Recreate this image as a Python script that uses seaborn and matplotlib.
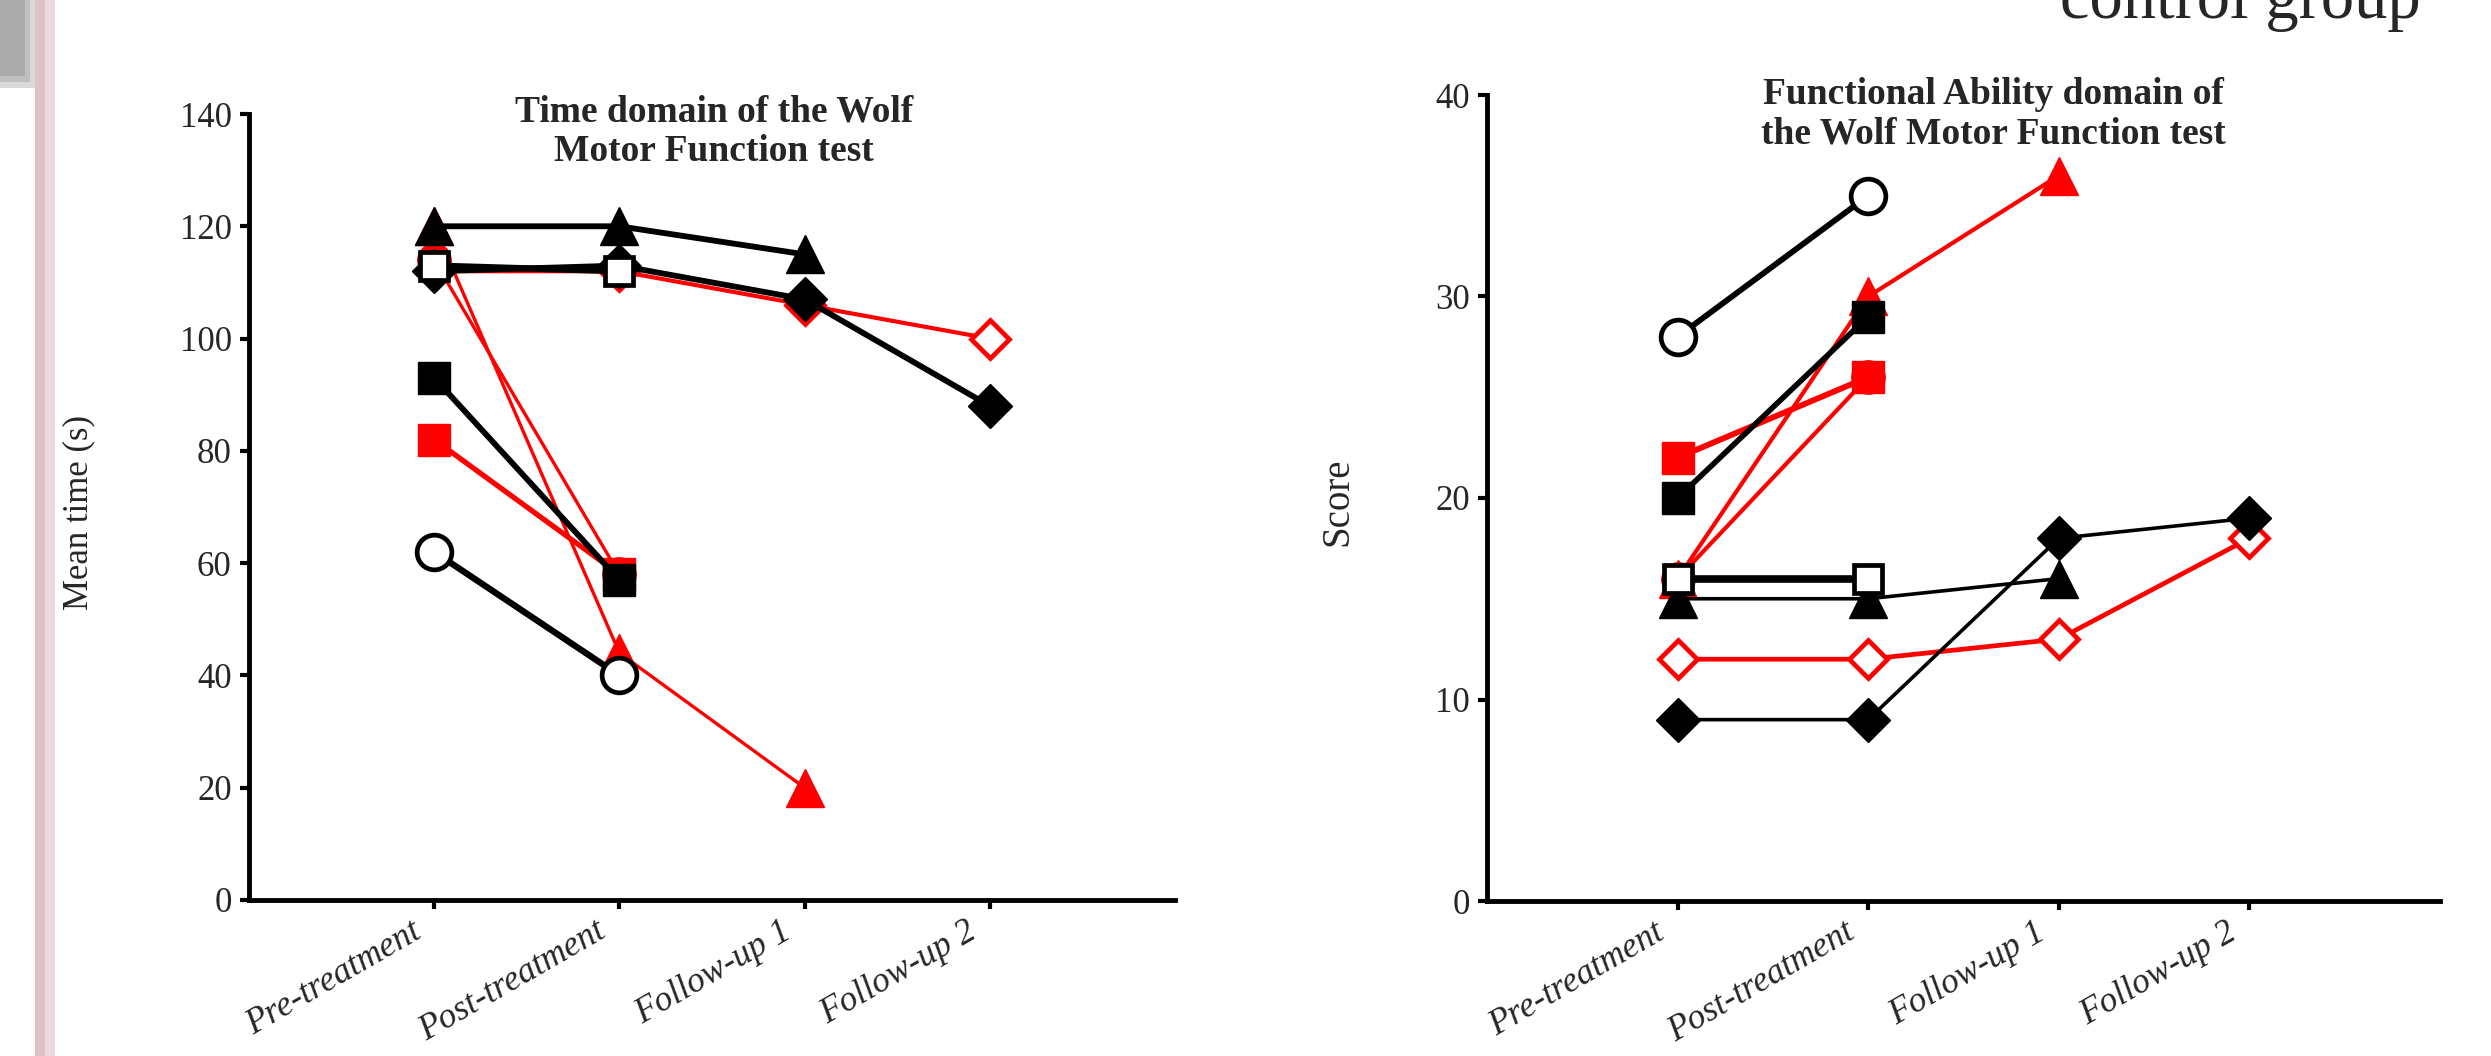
import numpy as np
import matplotlib
matplotlib.use("Agg")
import matplotlib.pyplot as plt
from matplotlib.patches import Rectangle
from matplotlib.transforms import ScaledTranslation
import seaborn as sns

nan = np.nan

# Assessment points shared by both panels
PHASES = ["Pre-treatment", "Post-treatment", "Follow-up 1", "Follow-up 2"]

# Time domain of the WMFT: mean time (s) per participant
time_red_triangle = [120, 44, 20, nan]
time_red_circle = [114, 58, nan, nan]
time_red_square = [82, 58, nan, nan]
time_red_diamond_open = [112, 112, 106, 100]
time_black_circle_open = [62, 40, nan, nan]
time_black_square = [93, 57, nan, nan]
time_black_diamond = [112, 113, 107, 88]
time_black_triangle = [120, 120, 115, nan]
time_black_square_open = [113, 112, nan, nan]

# Functional Ability domain of the WMFT: score per participant
fa_red_diamond_open = [12, 12, 13, 18]
fa_red_circle = [16, 26, nan, nan]
fa_red_triangle = [16, 30, 36, nan]
fa_red_square = [22, 26, nan, nan]
fa_black_triangle = [15, 15, 16, nan]
fa_black_diamond = [9, 9, 18, 19]
fa_black_square = [20, 29, nan, nan]
fa_black_square_open = [16, 16, nan, nan]
fa_black_circle_open = [28, 35, nan, nan]

TIME_TICKS = [0, 20, 40, 60, 80, 100, 120, 140]
FA_TICKS = [0, 10, 20, 30, 40]

RED = "#ff0000"
BLACK = "#000000"

# marker style: (marker, size, open?)
STYLE = {
    "triangle": ("^", 28, False),
    "circle": ("o", 24, False),
    "square": ("s", 23, False),
    "diamond": ("D", 22, False),
    "diamond_open": ("D", 19, True),
    "square_open": ("s", 20.5, True),
    "circle_open": ("o", 25, True),
}

time_series = [
    (time_red_triangle, RED, "triangle", 2.4),
    (time_red_circle, RED, "circle", 2.4),
    (time_red_square, RED, "square", 3.8),
    (time_red_diamond_open, RED, "diamond_open", 3.0),
    (time_black_circle_open, BLACK, "circle_open", 4.6),
    (time_black_square, BLACK, "square", 4.2),
    (time_black_diamond, BLACK, "diamond", 4.2),
    (time_black_triangle, BLACK, "triangle", 4.2),
    (time_black_square_open, BLACK, "square_open", 4.6),
]

fa_series = [
    (fa_red_diamond_open, RED, "diamond_open", 3.4),
    (fa_red_circle, RED, "circle", 3.0),
    (fa_red_triangle, RED, "triangle", 3.0),
    (fa_red_square, RED, "square", 4.2),
    (fa_black_triangle, BLACK, "triangle", 2.6),
    (fa_black_diamond, BLACK, "diamond", 2.6),
    (fa_black_square, BLACK, "square", 4.0),
    (fa_black_square_open, BLACK, "square_open", 5.5),
    (fa_black_circle_open, BLACK, "circle_open", 4.2),
]

sns.set_theme(style="ticks")
plt.rcParams["font.family"] = ["Liberation Serif", "DejaVu Serif"]

W, H = 2491, 1056
fig = plt.figure(figsize=(W / 100, H / 100), dpi=100)
fig.patch.set_facecolor("white")

# slide decoration at the left edge
for w, h, c in [(35, 88, "#d9d9d9"), (30, 82, "#bfbfbf"), (25, 76, "#ababab")]:
    fig.patches.append(Rectangle((0, 1 - h / H), w / W, h / H, transform=fig.transFigure,
                                 facecolor=c, edgecolor="none", zorder=0))
fig.patches.append(Rectangle((35 / W, 0), 10 / W, 1, transform=fig.transFigure,
                             facecolor="#dcc3c8", edgecolor="none", zorder=0))
fig.patches.append(Rectangle((45 / W, 0), 10 / W, 1, transform=fig.transFigure,
                             facecolor="#ebdadd", edgecolor="none", zorder=0))

ax1 = fig.add_axes([249 / W, 1 - 900 / H, 926 / W, 786 / H])
ax2 = fig.add_axes([1487 / W, 1 - 901 / H, 953 / W, 806 / H])

xpos = np.arange(len(PHASES))


def draw_panel(ax, series, ymax, yticks):
    for values, color, kind, lw in series:
        marker, ms, is_open = STYLE[kind]
        y = np.asarray(values, dtype=float)
        keep = ~np.isnan(y)
        sns.lineplot(
            x=xpos[keep], y=y[keep], ax=ax, color=color, linewidth=lw,
            marker=marker, markersize=ms,
            markerfacecolor="white" if is_open else color,
            markeredgecolor=color,
            markeredgewidth=3.4 if is_open else 1.0,
            errorbar=None, sort=False, legend=False,
        )
    ax.set_xlim(-1, 4)
    ax.set_ylim(0, ymax)
    ax.set_yticks(yticks)
    ax.set_yticklabels([str(t) for t in yticks], fontsize=25)
    ax.set_xticks(xpos)
    ax.set_xticklabels([])
    # slanted phase names, set just left of and below each tick
    label_trans = ax.get_xaxis_transform() + ScaledTranslation(-0.24, -0.15, fig.dpi_scale_trans)
    for xp, name in zip(xpos, PHASES):
        ax.text(xp, 0, name, transform=label_trans, fontsize=25.5, fontstyle="italic",
                rotation=30, ha="right", va="top", rotation_mode="anchor", clip_on=False)
    ax.set_xlabel("")
    ax.set_ylabel("")
    for side in ["top", "right"]:
        ax.spines[side].set_visible(False)
    for side in ["left", "bottom"]:
        ax.spines[side].set_linewidth(3.5)
        ax.spines[side].set_color("black")
    ax.tick_params(axis="both", direction="out", length=6.5, width=3, color="black")
    ax.tick_params(axis="y", pad=6)
    ax.set_facecolor("white")


draw_panel(ax1, time_series, 140, TIME_TICKS)
draw_panel(ax2, fa_series, 40, FA_TICKS)

# panel titles
fig.text(714 / W, 1 - 122 / H, "Time domain of the Wolf", ha="center", va="baseline",
         fontsize=27, fontweight="bold")
fig.text(714 / W, 1 - 161 / H, "Motor Function test", ha="center", va="baseline",
         fontsize=27, fontweight="bold")
fig.text(1993 / W, 1 - 104 / H, "Functional Ability domain of", ha="center", va="baseline",
         fontsize=27, fontweight="bold")
fig.text(1993 / W, 1 - 143 / H, "the Wolf Motor Function test", ha="center", va="baseline",
         fontsize=27, fontweight="bold")

# axis titles
fig.text(79 / W, 1 - 513 / H, "Mean time (s)", rotation=90, ha="center", va="center", fontsize=25)
fig.text(1338 / W, 1 - 502 / H, "Score", rotation=90, ha="center", va="center", fontsize=28)

# slide heading, mostly above the visible area
fig.text(2421 / W, 1 - 18 / H, "control group", ha="right", va="baseline", fontsize=48)

fig.savefig("out.png", dpi=100, facecolor="white")
